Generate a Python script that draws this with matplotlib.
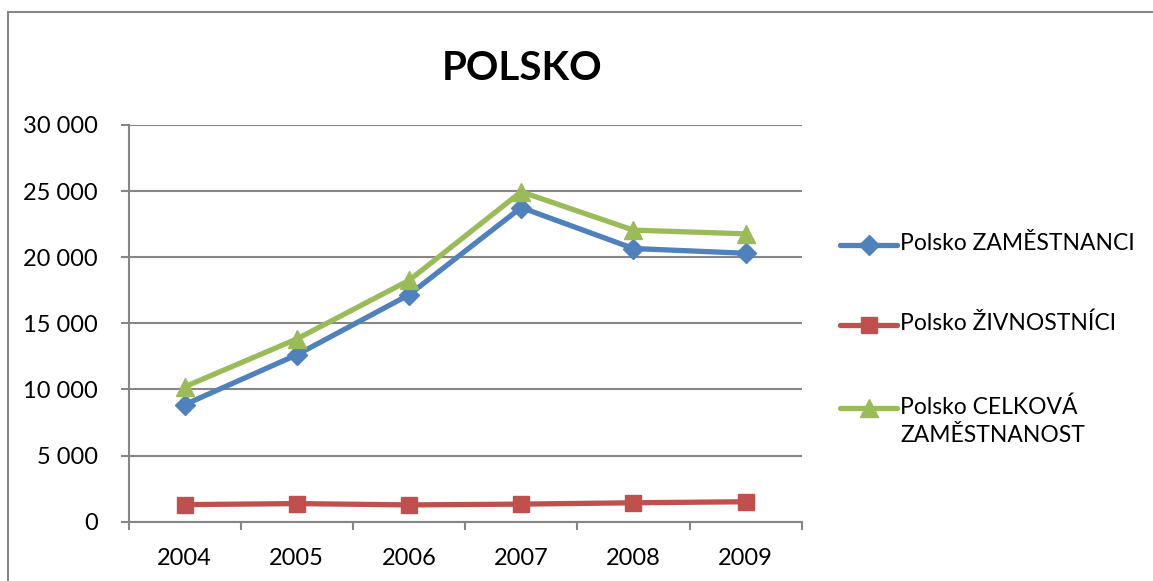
import matplotlib.pyplot as plt
from matplotlib.patches import Rectangle
from matplotlib.lines import Line2D
import numpy as np

plt.rcParams['font.family'] = ['Lato', 'DejaVu Sans']

years = ['2004', '2005', '2006', '2007', '2008', '2009']
zamestnanci = [8850, 12620, 17160, 23760, 20660, 20300]
zivnostnici = [1290, 1370, 1270, 1330, 1430, 1510]
celkova = [10200, 13820, 18250, 24950, 22050, 21770]
labels = ['Polsko ZAMĚSTNANCI', 'Polsko ŽIVNOSTNÍCI', 'Polsko CELKOVÁ\nZAMĚSTNANOST']

W, H = 1153, 581
fig = plt.figure(figsize=(W / 100, H / 100), dpi=100)
ax = fig.add_axes([128.5 / W, 1 - 521.7 / H, (801.7 - 128.5) / W, (521.7 - 125) / H])

# outer chart border (only left and top visible)
fig.patches.append(Rectangle((7.5 / W, -0.2), 1.2, 1.2 - 11.5 / H,
                             transform=fig.transFigure, fill=False,
                             edgecolor='#868686', lw=1.5))

x = np.arange(len(years))
gray = '#868686'
styles = [('#4F81BD', 'D', 10), ('#C0504D', 's', 11.5), ('#9BBB59', '^', 13)]
for vals, (c, m, ms), lab in zip([zamestnanci, zivnostnici, celkova], styles, labels):
    ax.plot(x, vals, color=c, lw=3.8, marker=m, ms=ms, label=lab, zorder=3)

ax.set_xlim(-0.5, 5.5)
ax.set_ylim(0, 30000)
ax.set_yticks(np.arange(0, 30001, 5000))
ax.set_yticklabels([f'{v:,}'.replace(',', ' ') for v in range(0, 30001, 5000)])
ax.grid(axis='y', color=gray, lw=1.5)
ax.set_axisbelow(True)

ax.set_xticks(x)
ax.set_xticklabels(years)
ax.set_xticks(np.arange(-0.5, 6, 1), minor=True)
ax.tick_params(axis='x', which='major', length=0, pad=19, labelsize=17)
ax.tick_params(axis='x', which='minor', length=6, width=1.5, color=gray)
ax.tick_params(axis='y', length=6, width=1.5, color=gray, pad=16, labelsize=17)

for s in ['top', 'right']:
    ax.spines[s].set_visible(False)
for s in ['left', 'bottom']:
    ax.spines[s].set_color(gray)
    ax.spines[s].set_linewidth(1.5)

fig.text(521.7 / W, 1 - 68 / H, 'POLSKO', ha='center', va='center',
         fontsize=29, fontweight='bold')

# legend, handle aligned with the first text line like Excel does
leg_y = [245, 325, 408]
for (c, m, ms), lab, yy in zip(styles, labels, leg_y):
    fy = 1 - yy / H
    fig.add_artist(Line2D([840 / W, 897 / W], [fy, fy], color=c, lw=3.8,
                          solid_capstyle='round', transform=fig.transFigure))
    fig.add_artist(Line2D([868.5 / W], [fy], color=c, marker=m, ms=ms,
                          transform=fig.transFigure))
    fig.text(900 / W, fy + 12 / H, lab, ha='left', va='top', fontsize=16.5,
             linespacing=1.45)

fig.savefig('out.png', dpi=100)
